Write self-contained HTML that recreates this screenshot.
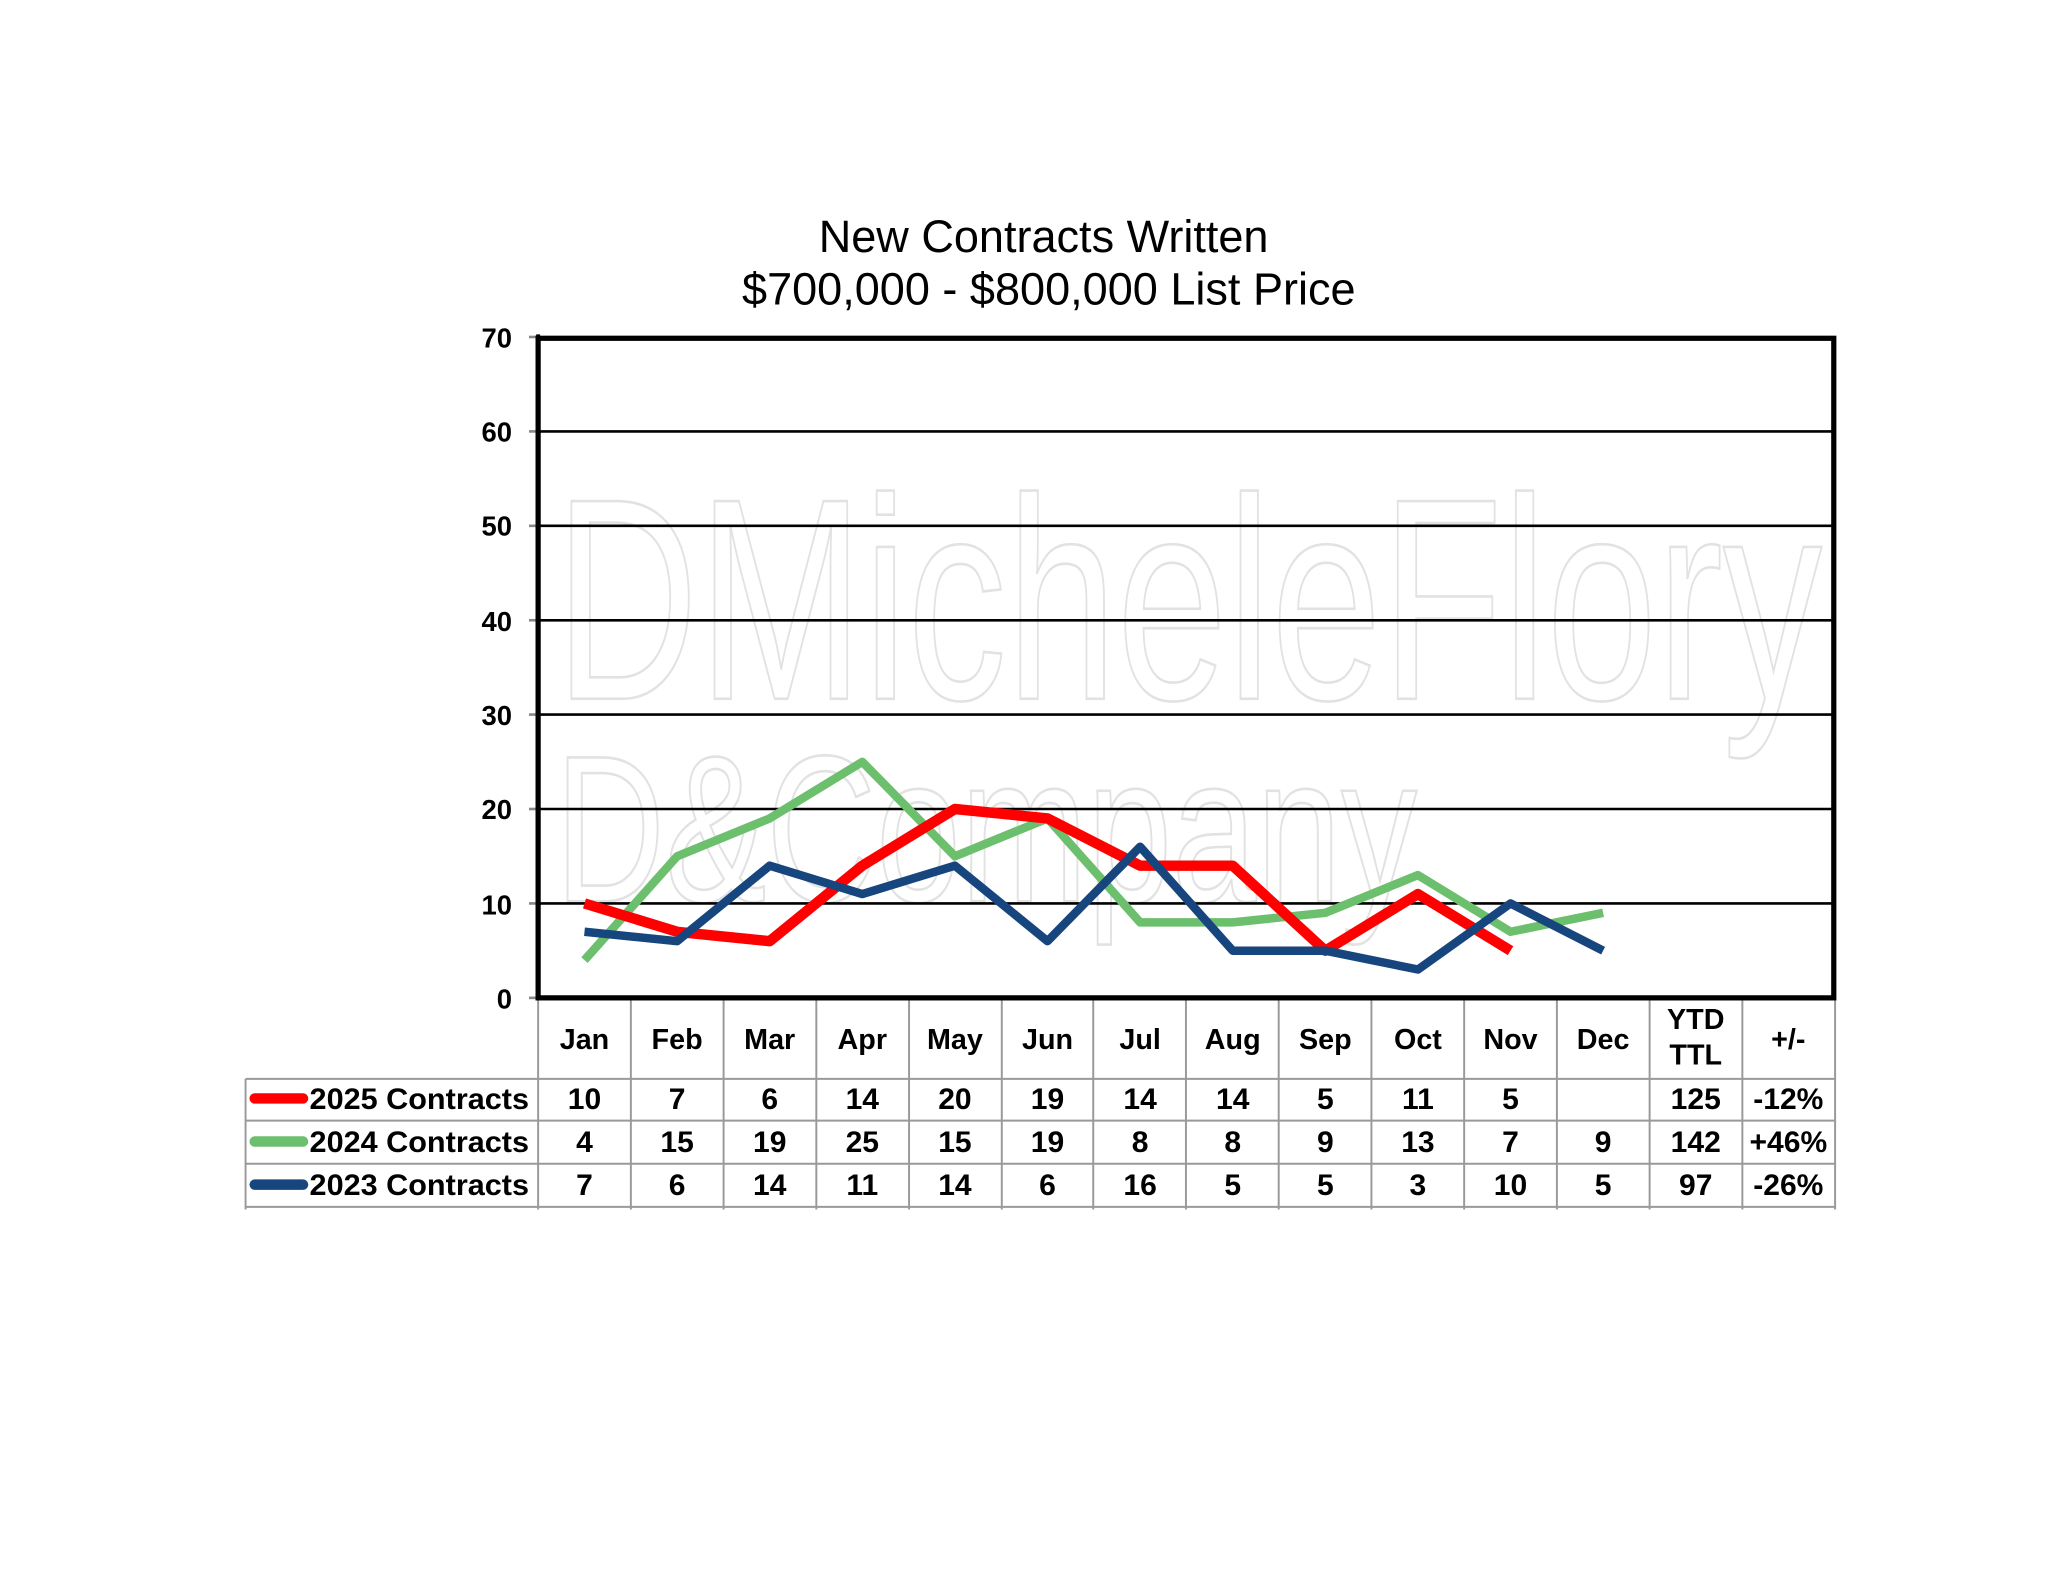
<!DOCTYPE html>
<html><head><meta charset="utf-8"><style>html,body{margin:0;padding:0;background:#fff}svg{display:block}</style></head>
<body>
<svg width="2048" height="1583" viewBox="0 0 1568 1212" xmlns="http://www.w3.org/2000/svg" font-family="Liberation Sans, Arial, sans-serif">
<rect width="1568" height="1212" fill="#fff"/>
<text x="799" y="193" font-size="34.5" text-anchor="middle">New Contracts Written</text>
<text x="803" y="233" font-size="34.5" text-anchor="middle">$700,000 - $800,000 List Price</text>
<!-- watermark -->
<g fill="none" stroke="#e2e2e2" stroke-width="2">
<text x="425" y="535" font-size="220" textLength="970" lengthAdjust="spacingAndGlyphs">DMicheleFlory</text>
<text x="425" y="690" font-size="160" textLength="660" lengthAdjust="spacingAndGlyphs">D&amp;Company</text>
</g>
<!-- grid -->
<g stroke="#000" stroke-width="2">
<line x1="412" x2="1405" y1="330.3" y2="330.3"/>
<line x1="412" x2="1405" y1="402.6" y2="402.6"/>
<line x1="412" x2="1405" y1="474.9" y2="474.9"/>
<line x1="412" x2="1405" y1="547.1" y2="547.1"/>
<line x1="412" x2="1405" y1="619.4" y2="619.4"/>
<line x1="412" x2="1405" y1="691.7" y2="691.7"/>
</g>
<g stroke="#888" stroke-width="2">
<line x1="405" x2="412" y1="258" y2="258"/><line x1="405" x2="412" y1="330.3" y2="330.3"/><line x1="405" x2="412" y1="402.6" y2="402.6"/><line x1="405" x2="412" y1="474.9" y2="474.9"/><line x1="405" x2="412" y1="547.1" y2="547.1"/><line x1="405" x2="412" y1="619.4" y2="619.4"/><line x1="405" x2="412" y1="691.7" y2="691.7"/><line x1="405" x2="412" y1="764" y2="764"/>
</g>
<g font-size="21" font-weight="bold" text-anchor="end">
<text x="392" y="266">70</text><text x="392" y="338">60</text><text x="392" y="410">50</text><text x="392" y="483">40</text><text x="392" y="555">30</text><text x="392" y="627">20</text><text x="392" y="700">10</text><text x="392" y="772">0</text>
</g>
<!-- series -->
<g fill="none" stroke-linejoin="round">
<polyline stroke="#6cbf6c" stroke-width="6.5" points="447.5,735.1 518.4,655.6 589.3,626.6 660.2,583.3 731.1,655.6 802,626.6 872.9,706.2 943.8,706.2 1014.7,698.9 1085.6,670 1156.5,713.4 1227.4,698.9"/>
<polyline stroke="#ff0000" stroke-width="8" points="447.5,691.7 518.4,713.4 589.3,720.6 660.2,662.8 731.1,619.4 802,626.6 872.9,662.8 943.8,662.8 1014.7,727.9 1085.6,684.5 1156.5,727.9"/>
<polyline stroke="#17457e" stroke-width="6.5" points="447.5,713.4 518.4,720.6 589.3,662.8 660.2,684.5 731.1,662.8 802,720.6 872.9,648.3 943.8,727.9 1014.7,727.9 1085.6,742.3 1156.5,691.7 1227.4,727.9"/>
</g>
<!-- frame -->
<rect x="412" y="259" width="992" height="505" fill="none" stroke="#000" stroke-width="4"/>
<line x1="412" y1="256" x2="412" y2="766" stroke="#000" stroke-width="3"/>
<!-- table -->
<g stroke="#999" stroke-width="1.5">
<line x1="188" x2="1405" y1="826" y2="826"/><line x1="188" x2="1405" y1="858" y2="858"/><line x1="188" x2="1405" y1="891" y2="891"/><line x1="188" x2="1405" y1="924" y2="924"/>
<line x1="188" x2="188" y1="826" y2="926"/>
<line x1="412" x2="412" y1="766" y2="926"/><line x1="483" x2="483" y1="766" y2="926"/><line x1="554" x2="554" y1="766" y2="926"/><line x1="625" x2="625" y1="766" y2="926"/><line x1="696" x2="696" y1="766" y2="926"/><line x1="767" x2="767" y1="766" y2="926"/><line x1="837" x2="837" y1="766" y2="926"/><line x1="908" x2="908" y1="766" y2="926"/><line x1="979" x2="979" y1="766" y2="926"/><line x1="1050" x2="1050" y1="766" y2="926"/><line x1="1121" x2="1121" y1="766" y2="926"/><line x1="1192" x2="1192" y1="766" y2="926"/><line x1="1263" x2="1263" y1="766" y2="926"/><line x1="1334" x2="1334" y1="766" y2="926"/><line x1="1405" x2="1405" y1="766" y2="926"/>
</g>
<g font-size="22" font-weight="bold" text-anchor="middle">
<text x="447.5" y="803">Jan</text><text x="518.4" y="803">Feb</text><text x="589.3" y="803">Mar</text><text x="660.2" y="803">Apr</text><text x="731.1" y="803">May</text><text x="802" y="803">Jun</text><text x="872.9" y="803">Jul</text><text x="943.8" y="803">Aug</text><text x="1014.7" y="803">Sep</text><text x="1085.6" y="803">Oct</text><text x="1156.5" y="803">Nov</text><text x="1227.4" y="803">Dec</text><text x="1298.3" y="788">YTD</text><text x="1298.3" y="815">TTL</text><text x="1369.2" y="803">+/-</text>
</g>
<g stroke-linecap="round" stroke-width="8">
<line x1="195" x2="232" y1="841" y2="841" stroke="#ff0000"/>
<line x1="195" x2="232" y1="874" y2="874" stroke="#6cbf6c"/>
<line x1="195" x2="232" y1="907" y2="907" stroke="#17457e"/>
</g>
<g font-size="23" font-weight="bold">
<text x="237" y="849" textLength="168" lengthAdjust="spacingAndGlyphs">2025 Contracts</text><text x="237" y="882" textLength="168" lengthAdjust="spacingAndGlyphs">2024 Contracts</text><text x="237" y="915" textLength="168" lengthAdjust="spacingAndGlyphs">2023 Contracts</text>
</g>
<g font-size="23" font-weight="bold" text-anchor="middle">
<text y="849"><tspan x="447.5">10</tspan><tspan x="518.4">7</tspan><tspan x="589.3">6</tspan><tspan x="660.2">14</tspan><tspan x="731.1">20</tspan><tspan x="802">19</tspan><tspan x="872.9">14</tspan><tspan x="943.8">14</tspan><tspan x="1014.7">5</tspan><tspan x="1085.6">11</tspan><tspan x="1156.5">5</tspan><tspan x="1298.3">125</tspan><tspan x="1369.2">-12%</tspan></text>
<text y="882"><tspan x="447.5">4</tspan><tspan x="518.4">15</tspan><tspan x="589.3">19</tspan><tspan x="660.2">25</tspan><tspan x="731.1">15</tspan><tspan x="802">19</tspan><tspan x="872.9">8</tspan><tspan x="943.8">8</tspan><tspan x="1014.7">9</tspan><tspan x="1085.6">13</tspan><tspan x="1156.5">7</tspan><tspan x="1227.4">9</tspan><tspan x="1298.3">142</tspan><tspan x="1369.2">+46%</tspan></text>
<text y="915"><tspan x="447.5">7</tspan><tspan x="518.4">6</tspan><tspan x="589.3">14</tspan><tspan x="660.2">11</tspan><tspan x="731.1">14</tspan><tspan x="802">6</tspan><tspan x="872.9">16</tspan><tspan x="943.8">5</tspan><tspan x="1014.7">5</tspan><tspan x="1085.6">3</tspan><tspan x="1156.5">10</tspan><tspan x="1227.4">5</tspan><tspan x="1298.3">97</tspan><tspan x="1369.2">-26%</tspan></text>
</g>
</svg>
</body></html>
